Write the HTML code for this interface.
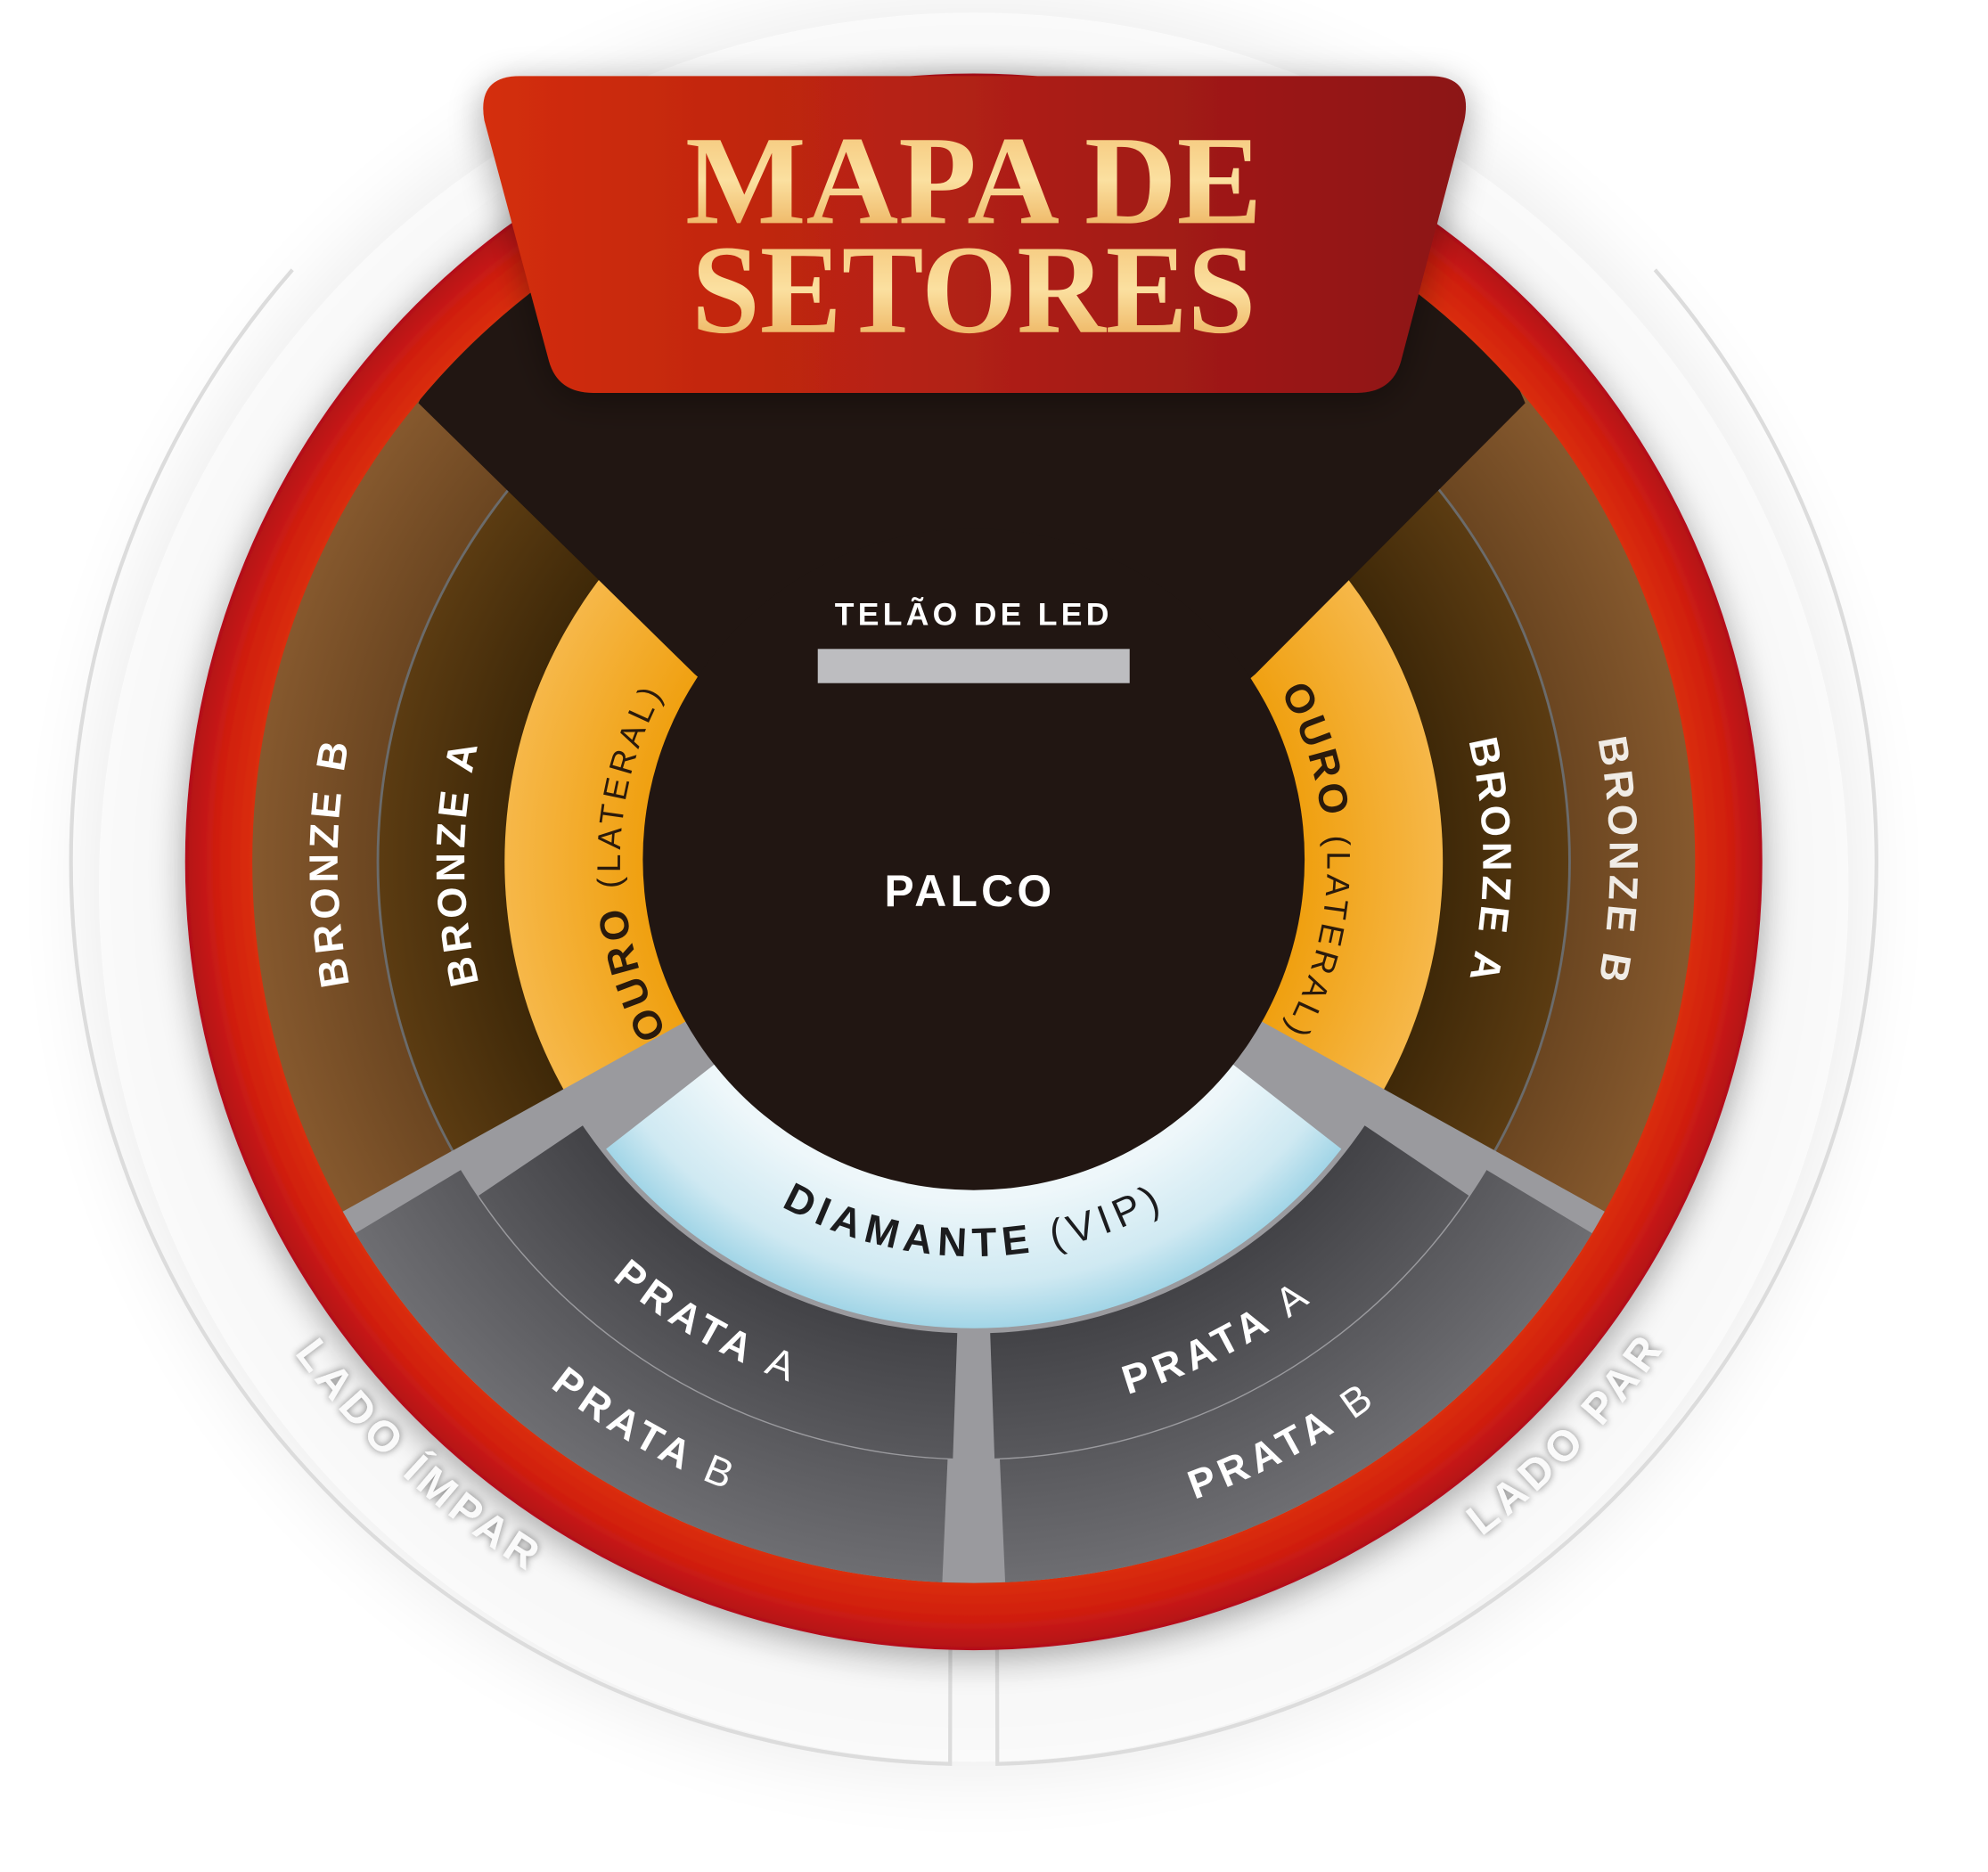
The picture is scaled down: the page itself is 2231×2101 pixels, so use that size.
<!DOCTYPE html>
<html><head><meta charset="utf-8">
<style>
html,body{margin:0;padding:0;background:#fff;}
svg{display:block;}
text{font-family:"Liberation Sans",sans-serif;font-weight:bold;}
</style></head>
<body>
<svg width="2231" height="2101" viewBox="0 0 1568 1477" preserveAspectRatio="none" xmlns="http://www.w3.org/2000/svg">
<defs>
  <radialGradient id="red" cx="768" cy="680" r="622" gradientUnits="userSpaceOnUse">
    <stop offset="0.88" stop-color="#e23a0e"/>
    <stop offset="0.96" stop-color="#d01e10"/>
    <stop offset="1" stop-color="#b3101a"/>
  </radialGradient>
  <radialGradient id="bronzeB" cx="768" cy="680" r="570" gradientUnits="userSpaceOnUse">
    <stop offset="0.82" stop-color="#6a4520"/>
    <stop offset="1" stop-color="#86592e"/>
  </radialGradient>
  <radialGradient id="bronzeA" cx="768" cy="680" r="472" gradientUnits="userSpaceOnUse">
    <stop offset="0.78" stop-color="#3e2808"/>
    <stop offset="1" stop-color="#5c3c12"/>
  </radialGradient>
  <radialGradient id="ouro" cx="768" cy="680" r="372" gradientUnits="userSpaceOnUse">
    <stop offset="0.7" stop-color="#f0a010"/>
    <stop offset="1" stop-color="#f6b84a"/>
  </radialGradient>
  <radialGradient id="diam" cx="768" cy="680" r="370" gradientUnits="userSpaceOnUse">
    <stop offset="0.72" stop-color="#eef7fa"/>
    <stop offset="0.9" stop-color="#cfe9f2"/>
    <stop offset="1" stop-color="#9fd4e6"/>
  </radialGradient>
  <radialGradient id="prata" cx="768" cy="680" r="570" gradientUnits="userSpaceOnUse">
    <stop offset="0.6" stop-color="#3c3c40"/>
    <stop offset="1" stop-color="#6e6e72"/>
  </radialGradient>
  <linearGradient id="banner" x1="0" y1="0" x2="1" y2="0">
    <stop offset="0" stop-color="#d42e0e"/>
    <stop offset="1" stop-color="#8c1218"/>
  </linearGradient>
  <linearGradient id="gold" x1="0" y1="0" x2="0" y2="1">
    <stop offset="0" stop-color="#f3c070"/>
    <stop offset="0.5" stop-color="#fbe0a0"/>
    <stop offset="1" stop-color="#e8a44a"/>
  </linearGradient>
  <filter id="sh" x="-20%" y="-20%" width="140%" height="140%">
    <feGaussianBlur in="SourceAlpha" stdDeviation="14"/>
    <feOffset dy="6"/>
    <feComponentTransfer><feFuncA type="linear" slope="0.35"/></feComponentTransfer>
    <feMerge><feMergeNode/><feMergeNode in="SourceGraphic"/></feMerge>
  </filter>
  <filter id="glow" x="-30%" y="-30%" width="160%" height="160%">
    <feGaussianBlur stdDeviation="30"/>
  </filter>
  <filter id="tsh" x="-20%" y="-20%" width="140%" height="140%">
    <feGaussianBlur in="SourceAlpha" stdDeviation="3"/>
    <feComponentTransfer><feFuncA type="linear" slope="0.5"/></feComponentTransfer>
    <feMerge><feMergeNode/><feMergeNode in="SourceGraphic"/></feMerge>
  </filter>
  <clipPath id="inner"><circle cx="768" cy="680" r="569"/></clipPath>
  <path id="pBB_L"/><path id="pBA_L"/><path id="pO_L"/>
  <path id="pBB_R"/><path id="pBA_R"/><path id="pO_R"/>
  <path id="pDI"/><path id="pPA_L"/><path id="pPB_L"/><path id="pPA_R"/><path id="pPB_R"/>
  <path id="pLI"/><path id="pLP"/>
</defs>

<!-- soft glow behind -->
<circle cx="768" cy="700" r="700" fill="#000" opacity="0.07" filter="url(#glow)"/>
<circle cx="768" cy="700" r="690" fill="#fff" opacity="0.6"/>

<!-- faint outer brackets -->
<g fill="none" stroke="#dcdcdc" stroke-width="3">
  <path id="brL"/>
  <path id="brR"/>
</g>

<!-- red ring -->
<circle cx="768" cy="680" r="622" fill="url(#red)" filter="url(#sh)"/>

<!-- bronze / ouro rings -->
<circle cx="768" cy="680" r="569" fill="url(#bronzeB)"/>
<circle cx="768" cy="680" r="471" fill="#6b6b6b"/>
<circle cx="768" cy="680" r="469" fill="url(#bronzeA)"/>
<circle cx="768" cy="680" r="370" fill="url(#ouro)"/>

<!-- bottom gray sector -->
<path id="graySec" fill="#9a9a9e"/>
<path id="prAL" fill="url(#prata)"/>
<path id="prBL" fill="url(#prata)"/>
<path id="prAR" fill="url(#prata)"/>
<path id="prBR" fill="url(#prata)"/>
<path id="diamSec" fill="url(#diam)"/>

<!-- stage -->
<g clip-path="url(#inner)">
  <polygon points="330,318 548,532 768,720 990,532 1203,318 1100,80 440,80" fill="#211612"/>
</g>
<circle cx="768" cy="678" r="261" fill="#211612"/>

<!-- banner -->
<path d="M410,60 L1128,60 Q1162,60 1155,95 L1105,285 Q1098,310 1070,310 L468,310 Q440,310 433,285 L382,95 Q376,60 410,60 Z" fill="url(#banner)" filter="url(#sh)"/>
<text x="768" y="176" text-anchor="middle" font-size="100" textLength="455" lengthAdjust="spacingAndGlyphs" fill="url(#gold)" style="font-family:'Liberation Serif',serif">MAPA DE</text>
<text x="768" y="262" text-anchor="middle" font-size="100" textLength="445" lengthAdjust="spacingAndGlyphs" fill="url(#gold)" style="font-family:'Liberation Serif',serif">SETORES</text>

<!-- LED -->
<text x="768" y="493" text-anchor="middle" font-size="25" fill="#fff" letter-spacing="3">TELÃO DE LED</text>
<rect x="645" y="512" width="246" height="27" fill="#bdbdc0"/>
<text x="765" y="715" text-anchor="middle" font-size="35" fill="#fff" letter-spacing="3">PALCO</text>

<!-- curved labels -->
<g fill="#fff" font-size="32" letter-spacing="4">
  <text dominant-baseline="central"><textPath href="#pBB_L" startOffset="50%" text-anchor="middle">BRONZE B</textPath></text>
  <text dominant-baseline="central"><textPath href="#pBA_L" startOffset="50%" text-anchor="middle">BRONZE A</textPath></text>
  <text dominant-baseline="central" fill="#2a1a0c"><textPath href="#pO_L" startOffset="50%" text-anchor="middle">OURO <tspan font-weight="normal" font-size="26">(LATERAL)</tspan></textPath></text>
  <text dominant-baseline="central" fill="#f0ece6"><textPath href="#pBB_R" startOffset="50%" text-anchor="middle">BRONZE B</textPath></text>
  <text dominant-baseline="central"><textPath href="#pBA_R" startOffset="50%" text-anchor="middle">BRONZE A</textPath></text>
  <text dominant-baseline="central" fill="#2a1a0c"><textPath href="#pO_R" startOffset="50%" text-anchor="middle">OURO <tspan font-weight="normal" font-size="26">(LATERAL)</tspan></textPath></text>
  <text dominant-baseline="central" fill="#1c1c1e"><textPath href="#pDI" startOffset="50%" text-anchor="middle">DIAMANTE <tspan font-weight="normal">(VIP)</tspan></textPath></text>
  <text dominant-baseline="central"><textPath href="#pPA_L" startOffset="50%" text-anchor="middle">PRATA <tspan font-weight="normal">A</tspan></textPath></text>
  <text dominant-baseline="central"><textPath href="#pPB_L" startOffset="50%" text-anchor="middle">PRATA <tspan font-weight="normal">B</tspan></textPath></text>
  <text dominant-baseline="central"><textPath href="#pPA_R" startOffset="50%" text-anchor="middle">PRATA <tspan font-weight="normal">A</tspan></textPath></text>
  <text dominant-baseline="central"><textPath href="#pPB_R" startOffset="50%" text-anchor="middle">PRATA <tspan font-weight="normal">B</tspan></textPath></text>
  <g filter="url(#tsh)">
  <text dominant-baseline="central" fill="#fafafa" font-size="34"><textPath href="#pLI" startOffset="50%" text-anchor="middle">LADO ÍMPAR</textPath></text>
  <text dominant-baseline="central" fill="#fafafa" font-size="34"><textPath href="#pLP" startOffset="50%" text-anchor="middle">LADO PAR</textPath></text>
  </g>
</g>

<script>
var CX=768,CY=680;
function P(r,a){a=a*Math.PI/180;return [(CX+r*Math.cos(a)).toFixed(2),(CY+r*Math.sin(a)).toFixed(2)];}
function arc(r,a1,a2){
  var s=P(r,a1),e=P(r,a2),large=Math.abs(a2-a1)>180?1:0,sw=a2>a1?1:0;
  return "M"+s[0]+","+s[1]+" A"+r+","+r+" 0 "+large+" "+sw+" "+e[0]+","+e[1];
}
function sector(r1,r2,a1,a2){
  var a=P(r2,a1),b=P(r2,a2),c=P(r1,a2),d=P(r1,a1),large=(a2-a1)>180?1:0;
  return "M"+a[0]+","+a[1]+" A"+r2+","+r2+" 0 "+large+" 1 "+b[0]+","+b[1]+
    " L"+c[0]+","+c[1]+" A"+r1+","+r1+" 0 "+large+" 0 "+d[0]+","+d[1]+" Z";
}
function set(id,d){document.getElementById(id).setAttribute("d",d);}
set("graySec",sector(0,569,29,151));
set("prAL",sector(372,471,92,146));
set("prBL",sector(472,569,92.5,149));
set("prAR",sector(372,471,34,88));
set("prBR",sector(472,569,31,87.5));
set("diamSec",sector(0,368,38,142));
set("pBB_L",arc(513,120,240));
set("pBA_L",arc(413,120,240));
set("pO_L",arc(288,115,245));
set("pBB_R",arc(513,-60,60));
set("pBA_R",arc(413,-60,60));
set("pO_R",arc(288,-65,65));
set("pDI",arc(300,150,30));
set("pPA_L",arc(424,160,80));
set("pPB_L",arc(521,160,80));
set("pPA_R",arc(426,103,23));
set("pPB_R",arc(521,102,22));
set("pLI",arc(650,175,91));
set("pLP",arc(655,89,-1));
var b=P(705,91.5);
document.getElementById("brL").setAttribute("d",arc(712,221,91.5)+" L"+b[0]+",1300");
var d=P(705,88.5);
document.getElementById("brR").setAttribute("d",arc(712,-41,88.5)+" L"+d[0]+",1300");
</script>
</svg>
</body></html>
